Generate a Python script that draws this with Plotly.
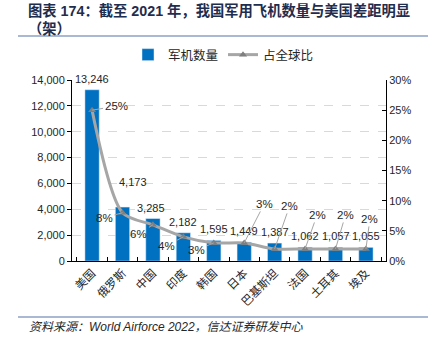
import plotly.graph_objects as go

categories = ["美国", "俄罗斯", "中国", "印度", "韩国", "日本", "巴基斯坦", "法国", "土耳其", "埃及"]
aircraft = [13246, 4173, 3285, 2182, 1595, 1449, 1387, 1062, 1057, 1055]
share_pct = [25, 8, 6, 4, 3, 3, 2, 2, 2, 2]
bar_label_shift = [(0, 3), (10, 17), (-2, 3), (0, 3), (0, 3), (0, 3), (0, 3), (0, 3), (0, 3), (0, 3)]
pct_label_offsets = [(24, -4), (-18, 5), (-14, 9), (-17, 9), (-17, 7), (20, -39), (15, -43), (12, -34), (10, -34), (4, -30)]

FONT = "Arial, Liberation Sans, Noto Sans CJK SC, sans-serif"
W, H = 436, 341
L, R, T, B = 72, 50, 80, 80
PW, PH = W - L - R, H - T - B


def px(x):
    return (x - L) / PW


def py(y):
    return (H - B - y) / PH


fig = go.Figure()
fig.add_trace(go.Bar(
    x=categories, y=aircraft, name="军机数量",
    marker=dict(color="#0070C0"), yaxis="y",
))
fig.add_trace(go.Scatter(
    x=categories, y=share_pct, name="占全球比", yaxis="y2",
    mode="lines+markers",
    line=dict(color="#A6A6A6", width=3, shape="spline", smoothing=0.8),
    marker=dict(symbol="triangle-up", size=7, color="#7F7F7F"),
))

ann = []
for c, v, (xs, ys) in zip(categories, aircraft, bar_label_shift):
    ann.append(dict(x=c, y=v, xref="x", yref="y", text=f"{v:,}", showarrow=False,
                    yanchor="bottom", xshift=xs, yshift=ys,
                    font=dict(size=11, color="#262626", family=FONT)))
for c, v, (ax, ay) in zip(categories, share_pct, pct_label_offsets):
    ann.append(dict(x=c, y=v, xref="x", yref="y2", text=f"{v}%", showarrow=True,
                    arrowhead=0, arrowwidth=1, arrowcolor="#A6A6A6", ax=ax, ay=ay,
                    standoff=0, startstandoff=0,
                    font=dict(size=11.5, color="#262626", family=FONT)))
for txt, yc in [("<b>图表 174：截至 2021 年，我国军用飞机数量与美国差距明显</b>", 10),
                ("<b>（架）</b>", 28)]:
    ann.append(dict(x=px(26), y=py(yc), xref="paper", yref="paper", xanchor="left", yanchor="middle",
                    align="left", showarrow=False, text=txt,
                    font=dict(size=14.3, color="#1F2D4E", family=FONT)))
ann.append(dict(x=px(27), y=py(327), xref="paper", yref="paper", xanchor="left", yanchor="middle",
                showarrow=False,
                text="<i>资料来源：World Airforce 2022，信达证券研发中心</i>",
                font=dict(size=12, color="#262626", family=FONT)))

shapes = [
    dict(type="line", xref="paper", yref="paper", x0=px(18), x1=px(428), y0=py(36), y1=py(36),
         line=dict(color="#8EA2C4", width=1.5)),
    dict(type="line", xref="paper", yref="paper", x0=px(18), x1=px(428), y0=py(317), y1=py(317),
         line=dict(color="#8EA2C4", width=1.5)),
]

fig.update_layout(
    width=W, height=H, margin=dict(l=L, r=R, t=T, b=B),
    paper_bgcolor="white", plot_bgcolor="white",
    font=dict(family=FONT, size=11, color="#262626"),
    bargap=0.53, showlegend=True,
    legend=dict(orientation="h", x=px(128), y=py(55), xanchor="left", yanchor="middle",
                font=dict(size=12.5, color="#262626"), itemwidth=30, bgcolor="rgba(0,0,0,0)"),
    xaxis=dict(type="category", showline=True, linecolor="#000000", linewidth=1,
               ticks="inside", tickson="boundaries", ticklen=4, tickcolor="#000000",
               tickangle=-45, tickfont=dict(size=11.5), showgrid=False),
    yaxis=dict(range=[0, 14000], dtick=2000, tickformat=",", showline=True, linecolor="#000000",
               ticks="outside", ticklen=4, tickcolor="#000000", showgrid=True, gridcolor="#D9D9D9",
               griddash="dash", zeroline=False, tickfont=dict(size=11)),
    yaxis2=dict(range=[0, 30], dtick=5, ticksuffix="%", overlaying="y", side="right",
                showline=True, linecolor="#000000", ticks="inside", ticklen=4, tickcolor="#000000",
                showgrid=False, zeroline=False, tickfont=dict(size=11)),
    annotations=ann, shapes=shapes,
)

fig.write_html("out.html")
